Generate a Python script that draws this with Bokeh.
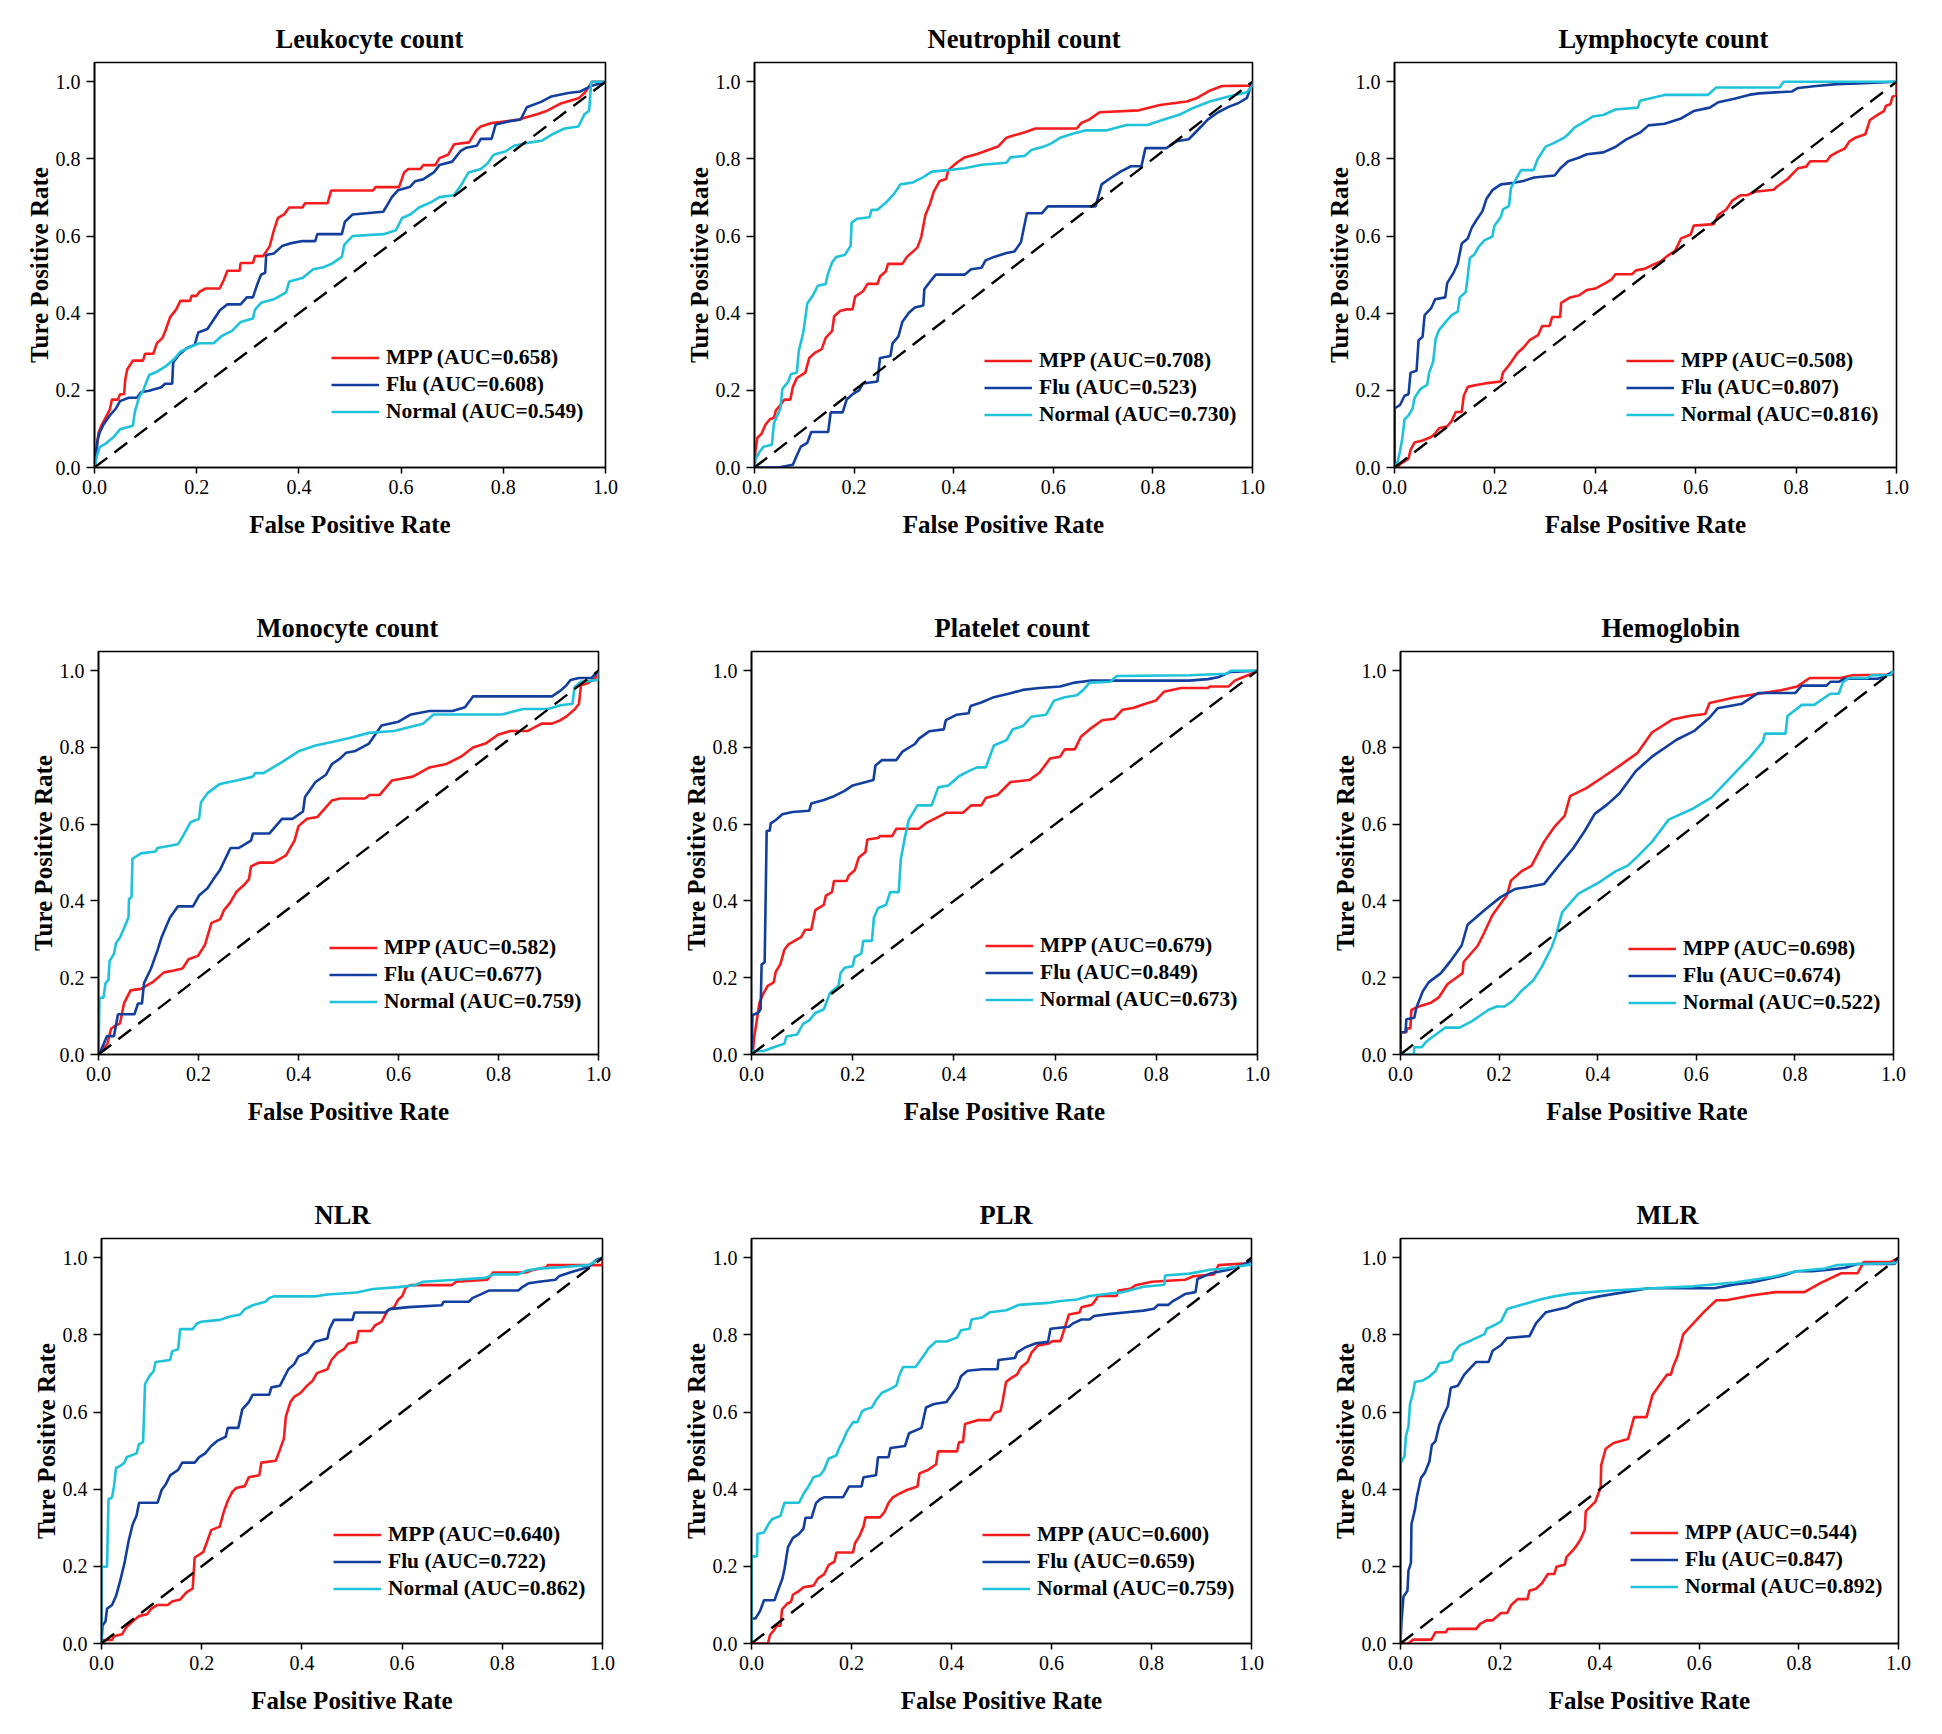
from bokeh.plotting import figure
from bokeh.layouts import column, row
from bokeh.models import Range1d, Legend, LegendItem, FixedTicker, PrintfTickFormatter
from bokeh.embed import file_html
from bokeh.resources import INLINE

# ---------------- data (FPR, TPR) ----------------
TITLES = ["Leukocyte count", "Neutrophil count", "Lymphocyte count",
          "Monocyte count", "Platelet count", "Hemoglobin",
          "NLR", "PLR", "MLR"]
GROUPS = ["MPP", "Flu", "Normal"]
AUC_MPP = [0.658, 0.708, 0.508, 0.582, 0.679, 0.698, 0.640, 0.600, 0.544]
AUC_FLU = [0.608, 0.523, 0.807, 0.677, 0.849, 0.674, 0.722, 0.659, 0.847]
AUC_NORMAL = [0.549, 0.730, 0.816, 0.759, 0.673, 0.522, 0.862, 0.759, 0.892]
TICKS = [0.0, 0.2, 0.4, 0.6, 0.8, 1.0]

LEUK_MPP = [(0,0),(.003,.04),(.008,.09),(.014,.11),(.02,.125),(.03,.15),(.034,.176),(.046,.176),(.05,.19),(.058,.19),(.06,.226),(.064,.254),(.075,.277),(.095,.277),(.099,.295),(.115,.295),(.122,.322),(.133,.336),(.14,.359),(.148,.39),(.16,.41),(.168,.432),(.187,.432),(.19,.445),(.2,.445),(.205,.455),(.217,.464),(.245,.464),(.253,.486),(.26,.51),(.284,.51),(.286,.53),(.31,.53),(.314,.548),(.33,.548),(.343,.574),(.35,.61),(.359,.647),(.371,.656),(.381,.674),(.407,.674),(.412,.685),(.456,.685),(.463,.718),(.545,.718),(.55,.727),(.596,.727),(.606,.765),(.614,.774),(.638,.774),(.643,.784),(.667,.784),(.675,.802),(.692,.811),(.704,.838),(.733,.843),(.748,.875),(.756,.884),(.777,.893),(.83,.902),(.866,.916),(.886,.925),(.911,.943),(.947,.957),(.959,.971),(.974,1.0),(1,1)]
LEUK_FLU = [(0,0),(.006,.071),(.01,.09),(.018,.112),(.03,.135),(.042,.153),(.05,.172),(.067,.181),(.083,.181),(.091,.195),(.107,.199),(.131,.208),(.138,.217),(.152,.217),(.154,.272),(.164,.29),(.18,.309),(.196,.318),(.203,.35),(.221,.359),(.237,.391),(.245,.407),(.26,.423),(.286,.423),(.298,.441),(.31,.441),(.318,.473),(.326,.5),(.334,.505),(.336,.551),(.351,.555),(.367,.574),(.383,.581),(.407,.587),(.432,.587),(.436,.605),(.484,.605),(.49,.637),(.505,.656),(.537,.66),(.565,.663),(.574,.683),(.582,.701),(.594,.719),(.618,.728),(.627,.742),(.643,.747),(.664,.765),(.675,.784),(.7,.793),(.716,.82),(.728,.829),(.748,.834),(.756,.852),(.777,.852),(.785,.889),(.813,.898),(.834,.902),(.846,.934),(.874,.948),(.894,.962),(.927,.971),(.951,.975),(.972,.989),(1,1)]
LEUK_NORMAL = [(0,0),(.004,.026),(.01,.053),(.022,.062),(.038,.08),(.05,.099),(.075,.108),(.079,.144),(.087,.181),(.095,.199),(.107,.24),(.123,.249),(.14,.263),(.156,.281),(.168,.3),(.188,.313),(.205,.322),(.233,.322),(.249,.341),(.269,.354),(.286,.377),(.31,.386),(.314,.409),(.326,.427),(.351,.436),(.375,.454),(.381,.482),(.407,.491),(.428,.514),(.448,.519),(.464,.528),(.484,.546),(.489,.578),(.505,.6),(.566,.605),(.59,.615),(.602,.647),(.618,.656),(.635,.674),(.659,.688),(.675,.701),(.703,.706),(.716,.729),(.732,.765),(.756,.774),(.769,.788),(.781,.811),(.805,.82),(.821,.834),(.854,.843),(.875,.847),(.899,.866),(.92,.879),(.947,.884),(.959,.916),(.968,.925),(.972,1.0),(1,1)]

NEUT_MPP = [(0,0),(.002,.045),(.006,.078),(.014,.087),(.022,.111),(.031,.125),(.039,.129),(.043,.148),(.052,.162),(.06,.176),(.072,.176),(.077,.209),(.085,.232),(.102,.246),(.11,.284),(.122,.298),(.135,.307),(.143,.336),(.156,.354),(.16,.392),(.172,.406),(.185,.41),(.197,.41),(.202,.443),(.218,.457),(.227,.476),(.247,.476),(.252,.495),(.264,.509),(.268,.528),(.297,.528),(.306,.546),(.327,.57),(.335,.598),(.343,.654),(.352,.682),(.36,.715),(.372,.743),(.385,.748),(.389,.771),(.406,.79),(.422,.804),(.447,.813),(.489,.832),(.506,.855),(.518,.86),(.543,.869),(.564,.879),(.647,.879),(.656,.893),(.672,.902),(.693,.921),(.772,.926),(.814,.94),(.868,.949),(.889,.958),(.914,.977),(.939,.989),(1,.99),(1,1)]
NEUT_FLU = [(0,0),(.048,0),(.077,.007),(.085,.031),(.093,.054),(.106,.064),(.114,.092),(.148,.092),(.153,.143),(.177,.143),(.185,.176),(.197,.19),(.21,.2),(.218,.218),(.247,.223),(.252,.284),(.273,.289),(.277,.321),(.289,.34),(.297,.378),(.31,.401),(.322,.415),(.339,.42),(.341,.462),(.352,.481),(.364,.5),(.422,.5),(.435,.514),(.456,.518),(.464,.537),(.481,.546),(.506,.556),(.522,.56),(.535,.584),(.547,.659),(.577,.659),(.589,.677),(.685,.677),(.697,.734),(.718,.753),(.735,.767),(.756,.781),(.777,.781),(.785,.828),(.827,.828),(.848,.846),(.872,.851),(.897,.884),(.91,.902),(.931,.921),(.952,.935),(.972,.945),(.989,.958),(.997,.991),(1,1)]
NEUT_NORMAL = [(0,0),(.002,.022),(.01,.04),(.018,.054),(.035,.059),(.039,.115),(.052,.153),(.056,.204),(.068,.223),(.073,.242),(.085,.246),(.089,.303),(.098,.35),(.106,.425),(.118,.448),(.127,.471),(.143,.476),(.147,.5),(.156,.532),(.164,.546),(.181,.551),(.193,.574),(.195,.635),(.206,.645),(.231,.649),(.235,.668),(.247,.668),(.264,.687),(.281,.711),(.293,.734),(.318,.739),(.339,.753),(.356,.767),(.389,.771),(.422,.776),(.456,.785),(.506,.79),(.514,.804),(.543,.808),(.556,.823),(.581,.832),(.597,.841),(.614,.855),(.639,.865),(.664,.874),(.706,.874),(.747,.888),(.789,.888),(.822,.902),(.856,.916),(.877,.93),(.914,.949),(.956,.963),(.989,.973),(1,.99),(1,1)]

LYMPH_MPP = [(.007,0),(.011,.009),(.028,.023),(.032,.046),(.04,.065),(.056,.07),(.073,.079),(.081,.088),(.089,.102),(.105,.107),(.114,.121),(.122,.144),(.134,.144),(.138,.186),(.146,.209),(.163,.214),(.18,.218),(.212,.223),(.216,.246),(.228,.265),(.245,.297),(.257,.311),(.269,.33),(.286,.343),(.294,.367),(.309,.367),(.314,.39),(.33,.39),(.332,.427),(.35,.441),(.367,.446),(.383,.46),(.4,.464),(.42,.478),(.432,.487),(.44,.501),(.473,.501),(.481,.511),(.498,.515),(.514,.525),(.53,.534),(.543,.548),(.559,.562),(.571,.594),(.59,.604),(.596,.627),(.636,.631),(.645,.655),(.661,.669),(.673,.692),(.69,.706),(.702,.706),(.718,.715),(.755,.72),(.763,.729),(.783,.748),(.804,.776),(.82,.78),(.828,.794),(.861,.794),(.869,.808),(.881,.817),(.897,.827),(.906,.845),(.918,.855),(.938,.864),(.947,.901),(.963,.915),(.975,.924),(.979,.938),(.988,.942),(.992,.961),(1,.966),(1,1)]
LYMPH_FLU = [(0,0),(0,.153),(.011,.162),(.02,.186),(.028,.19),(.032,.246),(.044,.251),(.048,.33),(.056,.339),(.06,.395),(.073,.413),(.081,.436),(.101,.441),(.105,.478),(.118,.506),(.126,.529),(.134,.581),(.146,.594),(.154,.622),(.163,.641),(.175,.664),(.183,.696),(.195,.719),(.212,.734),(.237,.738),(.257,.743),(.278,.752),(.319,.757),(.33,.775),(.346,.794),(.367,.803),(.383,.812),(.416,.817),(.44,.831),(.461,.85),(.489,.868),(.506,.887),(.538,.891),(.571,.905),(.596,.924),(.628,.933),(.645,.947),(.677,.956),(.706,.966),(.726,.97),(.792,.975),(.804,.984),(.84,.989),(.881,.994),(.922,.996),(1,1)]
LYMPH_NORMAL = [(0,0),(.006,.014),(.011,.042),(.016,.079),(.02,.125),(.028,.135),(.036,.153),(.04,.181),(.052,.204),(.065,.214),(.069,.246),(.077,.274),(.082,.334),(.089,.357),(.101,.376),(.114,.395),(.126,.404),(.13,.441),(.142,.455),(.146,.497),(.15,.543),(.159,.552),(.167,.571),(.179,.589),(.195,.599),(.199,.627),(.212,.65),(.216,.669),(.228,.678),(.232,.725),(.24,.743),(.252,.771),(.277,.771),(.285,.799),(.301,.832),(.317,.841),(.338,.855),(.346,.864),(.359,.882),(.371,.891),(.383,.9),(.395,.91),(.416,.914),(.44,.928),(.485,.933),(.489,.951),(.538,.966),(.624,.966),(.641,.985),(.767,.985),(.775,1.0),(1,1)]

MONO_MPP = [(.002,0),(.01,.014),(.018,.029),(.025,.067),(.035,.076),(.043,.081),(.051,.133),(.064,.167),(.085,.171),(.11,.19),(.131,.214),(.151,.219),(.168,.224),(.18,.248),(.199,.257),(.213,.286),(.226,.343),(.243,.352),(.251,.376),(.263,.395),(.276,.424),(.292,.443),(.301,.457),(.305,.49),(.321,.5),(.35,.5),(.375,.519),(.392,.557),(.4,.595),(.417,.614),(.438,.619),(.467,.662),(.483,.667),(.533,.667),(.542,.676),(.562,.676),(.587,.714),(.629,.724),(.662,.748),(.696,.757),(.725,.776),(.749,.8),(.774,.81),(.799,.833),(.824,.843),(.859,.843),(.886,.862),(.907,.862),(.924,.871),(.936,.881),(.953,.9),(.961,.914),(.965,.962),(.978,.967),(.994,.981),(1,1)]
MONO_FLU = [(0,0),(.006,.014),(.017,.048),(.031,.048),(.039,.105),(.072,.105),(.079,.133),(.087,.133),(.091,.186),(.105,.224),(.114,.257),(.118,.271),(.126,.305),(.143,.357),(.159,.386),(.189,.386),(.201,.414),(.218,.433),(.23,.457),(.243,.481),(.264,.538),(.28,.538),(.305,.557),(.309,.576),(.342,.576),(.367,.614),(.388,.614),(.409,.633),(.413,.671),(.434,.71),(.455,.729),(.467,.757),(.483,.771),(.495,.786),(.512,.79),(.541,.81),(.566,.857),(.6,.867),(.625,.886),(.662,.895),(.708,.895),(.733,.905),(.749,.933),(.907,.933),(.924,.948),(.936,.962),(.944,.976),(.961,.981),(.986,.981),(1,1)]
MONO_NORMAL = [(0,0),(.002,.148),(.01,.148),(.014,.186),(.02,.195),(.022,.243),(.031,.262),(.035,.29),(.043,.305),(.051,.329),(.06,.357),(.061,.405),(.066,.41),(.068,.51),(.085,.524),(.114,.529),(.118,.538),(.159,.548),(.168,.567),(.184,.605),(.201,.614),(.205,.657),(.218,.681),(.243,.705),(.276,.714),(.309,.724),(.313,.733),(.33,.733),(.367,.762),(.4,.79),(.434,.805),(.467,.814),(.5,.824),(.541,.838),(.591,.843),(.649,.862),(.67,.886),(.807,.886),(.849,.9),(.899,.9),(.924,.91),(.948,.914),(.952,.957),(.965,.971),(1,.976),(1,1)]

PLAT_MPP = [(0,0),(.003,.009),(.005,.042),(.01,.085),(.013,.113),(.016,.136),(.024,.16),(.032,.179),(.044,.188),(.048,.216),(.057,.235),(.065,.273),(.073,.287),(.085,.296),(.098,.306),(.106,.325),(.118,.325),(.126,.376),(.143,.39),(.147,.414),(.159,.423),(.163,.452),(.188,.452),(.192,.466),(.204,.48),(.212,.513),(.225,.527),(.229,.56),(.25,.564),(.254,.569),(.278,.569),(.286,.588),(.331,.588),(.344,.602),(.372,.621),(.385,.63),(.418,.63),(.434,.649),(.454,.649),(.463,.668),(.487,.677),(.512,.71),(.549,.715),(.569,.734),(.59,.771),(.61,.776),(.619,.795),(.639,.795),(.651,.828),(.668,.847),(.693,.871),(.717,.875),(.733,.898),(.754,.903),(.774,.912),(.799,.922),(.815,.945),(.849,.955),(.902,.955),(.906,.959),(.943,.959),(.955,.974),(.971,.983),(.988,.992),(1,1)]
PLAT_FLU = [(0,0),(.002,.103),(.013,.108),(.018,.118),(.02,.235),(.026,.24),(.03,.583),(.036,.583),(.038,.602),(.048,.611),(.061,.626),(.081,.632),(.114,.635),(.118,.654),(.143,.663),(.163,.673),(.184,.687),(.2,.701),(.241,.715),(.245,.753),(.258,.767),(.286,.767),(.299,.79),(.323,.809),(.331,.823),(.351,.842),(.38,.847),(.384,.871),(.405,.885),(.429,.889),(.433,.908),(.454,.917),(.479,.931),(.512,.941),(.536,.95),(.569,.955),(.61,.959),(.639,.969),(.668,.974),(.865,.974),(.902,.978),(.922,.983),(.947,.997),(1,1)]
PLAT_NORMAL = [(0,0),(.003,.009),(.024,.009),(.044,.019),(.065,.028),(.069,.047),(.09,.052),(.102,.08),(.114,.089),(.126,.108),(.143,.118),(.155,.16),(.172,.179),(.176,.212),(.184,.226),(.2,.23),(.204,.254),(.217,.263),(.221,.296),(.238,.296),(.242,.357),(.25,.381),(.266,.39),(.274,.423),(.291,.423),(.295,.508),(.303,.565),(.311,.612),(.328,.649),(.356,.649),(.369,.696),(.389,.701),(.41,.725),(.43,.739),(.446,.748),(.463,.748),(.479,.805),(.504,.819),(.516,.847),(.537,.856),(.553,.88),(.582,.885),(.598,.922),(.619,.931),(.643,.936),(.656,.95),(.668,.969),(.709,.971),(.722,.986),(.865,.988),(.939,.992),(.947,1.0),(1,1)]

HEMO_MPP = [(0,0),(0,.058),(.012,.058),(.013,.068),(.02,.068),(.022,.116),(.037,.125),(.062,.135),(.078,.149),(.095,.183),(.111,.198),(.126,.212),(.128,.241),(.157,.284),(.17,.318),(.186,.362),(.207,.4),(.216,.415),(.224,.453),(.245,.477),(.266,.492),(.291,.554),(.312,.593),(.333,.622),(.344,.673),(.377,.694),(.411,.723),(.444,.752),(.481,.786),(.51,.839),(.552,.873),(.585,.882),(.618,.887),(.627,.916),(.677,.93),(.726,.94),(.772,.949),(.805,.959),(.83,.981),(.893,.981),(.917,.988),(1,.99),(1,1)]
HEMO_FLU = [(0,0),(0,.058),(.01,.058),(.012,.092),(.028,.096),(.032,.121),(.045,.164),(.057,.188),(.082,.212),(.103,.246),(.124,.284),(.136,.338),(.17,.376),(.203,.41),(.232,.431),(.261,.437),(.291,.444),(.324,.497),(.349,.535),(.374,.583),(.394,.627),(.419,.651),(.444,.68),(.477,.738),(.51,.776),(.56,.82),(.597,.844),(.627,.878),(.643,.902),(.693,.914),(.726,.942),(.801,.942),(.814,.961),(.864,.961),(.872,.971),(.889,.971),(.901,.979),(.968,.979),(.98,.984),(1,.998)]
HEMO_NORMAL = [(0,0),(.027,0),(.028,.019),(.043,.019),(.053,.034),(.062,.043),(.078,.058),(.091,.07),(.12,.07),(.145,.087),(.161,.101),(.178,.116),(.195,.125),(.211,.125),(.228,.14),(.244,.164),(.269,.193),(.286,.227),(.307,.28),(.315,.309),(.328,.371),(.361,.419),(.402,.448),(.436,.477),(.461,.492),(.481,.516),(.51,.554),(.544,.612),(.594,.641),(.631,.67),(.66,.709),(.685,.743),(.71,.776),(.735,.815),(.739,.836),(.781,.836),(.785,.882),(.814,.911),(.839,.911),(.872,.94),(.889,.94),(.897,.969),(.909,.981),(.947,.981),(.955,.988),(.993,.988),(1,1)]

NLR_MPP = [(0,0),(.004,.009),(.021,.009),(.025,.019),(.041,.024),(.05,.043),(.062,.057),(.075,.071),(.091,.076),(.099,.09),(.112,.1),(.132,.1),(.141,.109),(.157,.114),(.17,.133),(.182,.142),(.186,.223),(.203,.237),(.211,.265),(.219,.294),(.236,.303),(.244,.341),(.252,.37),(.261,.393),(.269,.403),(.286,.408),(.294,.431),(.315,.436),(.319,.469),(.348,.474),(.356,.502),(.364,.531),(.368,.588),(.377,.626),(.385,.64),(.397,.649),(.41,.668),(.422,.682),(.43,.701),(.451,.711),(.459,.735),(.472,.754),(.484,.763),(.492,.777),(.509,.782),(.513,.81),(.538,.81),(.546,.825),(.559,.834),(.571,.863),(.584,.872),(.592,.891),(.6,.9),(.608,.924),(.617,.929),(.699,.929),(.708,.938),(.77,.943),(.782,.962),(.849,.962),(.857,.967),(.89,.976),(.89,.981),(1,.981),(1,1)]
NLR_FLU = [(0,0),(.002,.047),(.008,.057),(.011,.09),(.021,.1),(.029,.123),(.037,.161),(.046,.209),(.054,.265),(.062,.308),(.07,.332),(.075,.365),(.112,.365),(.12,.398),(.128,.412),(.137,.436),(.153,.45),(.161,.469),(.186,.469),(.195,.483),(.207,.493),(.219,.512),(.232,.526),(.248,.536),(.252,.559),(.273,.559),(.281,.607),(.294,.626),(.302,.645),(.335,.645),(.339,.664),(.356,.668),(.373,.711),(.385,.725),(.393,.744),(.41,.754),(.426,.782),(.439,.787),(.451,.791),(.455,.815),(.464,.839),(.501,.839),(.505,.858),(.567,.858),(.575,.867),(.613,.872),(.679,.877),(.683,.886),(.733,.886),(.741,.896),(.757,.905),(.773,.915),(.832,.915),(.84,.924),(.853,.934),(.873,.938),(.906,.943),(.914,.953),(.935,.962),(.972,.976),(.988,.995),(1,1)]
NLR_NORMAL = [(0,0),(0,.199),(.011,.199),(.014,.374),(.021,.379),(.025,.408),(.029,.455),(.037,.46),(.046,.469),(.05,.483),(.07,.493),(.075,.517),(.083,.522),(.087,.673),(.095,.692),(.104,.706),(.108,.73),(.137,.735),(.141,.758),(.153,.763),(.157,.815),(.182,.815),(.19,.829),(.199,.834),(.236,.839),(.257,.848),(.277,.853),(.286,.867),(.302,.877),(.327,.886),(.335,.896),(.344,.9),(.426,.9),(.451,.905),(.509,.91),(.542,.919),(.592,.924),(.625,.929),(.642,.938),(.708,.943),(.766,.948),(.782,.957),(.832,.957),(.849,.967),(.873,.972),(.923,.976),(.972,.981),(1,1)]

PLR_MPP = [(0,0),(.033,0),(.037,.022),(.046,.036),(.05,.046),(.058,.046),(.061,.088),(.071,.103),(.079,.108),(.083,.127),(.095,.136),(.104,.146),(.124,.15),(.133,.169),(.145,.179),(.154,.203),(.166,.212),(.17,.236),(.203,.236),(.207,.26),(.216,.279),(.224,.303),(.228,.327),(.257,.327),(.266,.341),(.274,.364),(.282,.378),(.295,.388),(.311,.398),(.332,.407),(.336,.441),(.353,.45),(.369,.464),(.373,.498),(.411,.498),(.415,.522),(.423,.522),(.427,.569),(.452,.579),(.477,.579),(.486,.598),(.498,.603),(.502,.626),(.509,.678),(.519,.688),(.531,.697),(.539,.716),(.552,.73),(.56,.754),(.573,.773),(.593,.777),(.602,.784),(.618,.784),(.627,.82),(.635,.853),(.656,.858),(.66,.872),(.681,.878),(.689,.892),(.693,.901),(.73,.901),(.734,.915),(.759,.92),(.768,.929),(.801,.938),(.867,.943),(.884,.952),(.925,.957),(.934,.981),(.992,.986),(1,1)]
PLR_FLU = [(0,0),(0,.065),(.008,.065),(.017,.084),(.025,.112),(.046,.112),(.054,.141),(.062,.169),(.066,.193),(.073,.25),(.083,.274),(.095,.284),(.104,.298),(.108,.326),(.12,.326),(.129,.364),(.137,.374),(.145,.379),(.183,.379),(.187,.388),(.195,.407),(.22,.407),(.224,.431),(.249,.436),(.253,.483),(.274,.483),(.278,.507),(.307,.512),(.315,.545),(.34,.559),(.349,.612),(.365,.621),(.39,.626),(.398,.641),(.411,.664),(.419,.693),(.432,.707),(.461,.711),(.492,.711),(.494,.735),(.527,.74),(.531,.754),(.548,.768),(.568,.778),(.593,.782),(.598,.816),(.635,.821),(.643,.83),(.66,.84),(.676,.84),(.685,.849),(.714,.854),(.751,.859),(.784,.863),(.805,.868),(.813,.878),(.834,.878),(.842,.887),(.855,.897),(.867,.906),(.888,.911),(.892,.945),(.917,.959),(.954,.969),(.975,.978),(1,.992)]
PLR_NORMAL = [(0,0),(0,.226),(.011,.226),(.012,.284),(.025,.288),(.033,.307),(.041,.322),(.058,.331),(.066,.365),(.095,.365),(.104,.388),(.112,.403),(.124,.431),(.137,.436),(.145,.45),(.154,.479),(.17,.488),(.174,.503),(.183,.526),(.191,.55),(.203,.574),(.212,.574),(.221,.602),(.228,.607),(.241,.612),(.249,.631),(.261,.65),(.278,.66),(.29,.669),(.295,.693),(.303,.717),(.328,.717),(.336,.731),(.349,.755),(.353,.764),(.369,.783),(.39,.783),(.411,.793),(.419,.812),(.436,.816),(.44,.84),(.461,.845),(.477,.859),(.51,.864),(.535,.878),(.593,.883),(.618,.888),(.651,.892),(.676,.901),(.709,.906),(.743,.911),(.784,.925),(.826,.93),(.827,.954),(.876,.959),(.917,.969),(.95,.973),(1,.983)]

MLR_MPP = [(0,0),(.016,0),(.025,.01),(.062,.01),(.07,.029),(.091,.029),(.095,.038),(.152,.038),(.16,.051),(.173,.06),(.185,.06),(.202,.079),(.214,.079),(.222,.099),(.235,.115),(.255,.115),(.259,.137),(.272,.142),(.284,.156),(.296,.18),(.309,.18),(.313,.199),(.33,.204),(.333,.223),(.35,.247),(.362,.271),(.37,.295),(.372,.343),(.391,.367),(.402,.405),(.403,.462),(.412,.505),(.428,.52),(.457,.53),(.469,.587),(.494,.587),(.506,.644),(.519,.668),(.535,.697),(.543,.697),(.547,.716),(.556,.744),(.568,.802),(.588,.83),(.609,.859),(.634,.89),(.654,.89),(.704,.902),(.753,.911),(.811,.911),(.844,.935),(.885,.96),(.918,.96),(.93,.989),(.984,.989),(1,1)]
MLR_FLU = [(0,0),(.002,.056),(.006,.122),(.014,.137),(.016,.189),(.021,.209),(.022,.309),(.029,.347),(.033,.381),(.041,.429),(.049,.443),(.058,.472),(.063,.515),(.07,.524),(.078,.567),(.086,.591),(.095,.615),(.101,.663),(.115,.668),(.128,.697),(.152,.73),(.177,.73),(.185,.759),(.202,.774),(.214,.792),(.259,.797),(.272,.83),(.292,.859),(.309,.864),(.333,.871),(.35,.883),(.374,.893),(.399,.9),(.432,.907),(.457,.912),(.498,.921),(.63,.921),(.671,.931),(.704,.936),(.737,.945),(.77,.955),(.794,.965),(.827,.965),(.86,.969),(.893,.974),(.918,.984),(.992,.984),(1,1)]
MLR_NORMAL = [(0,0),(0,.467),(.008,.486),(.011,.539),(.016,.562),(.019,.62),(.025,.649),(.029,.678),(.045,.682),(.058,.692),(.07,.706),(.078,.727),(.095,.73),(.103,.735),(.107,.754),(.119,.773),(.144,.787),(.169,.802),(.173,.816),(.19,.826),(.202,.835),(.214,.867),(.243,.878),(.284,.893),(.309,.9),(.342,.907),(.424,.915),(.506,.921),(.588,.926),(.671,.936),(.745,.95),(.794,.965),(.852,.972),(.877,.981),(.918,.984),(.992,.986),(1,1)]

CURVES = [
    (LEUK_MPP, LEUK_FLU, LEUK_NORMAL),
    (NEUT_MPP, NEUT_FLU, NEUT_NORMAL),
    (LYMPH_MPP, LYMPH_FLU, LYMPH_NORMAL),
    (MONO_MPP, MONO_FLU, MONO_NORMAL),
    (PLAT_MPP, PLAT_FLU, PLAT_NORMAL),
    (HEMO_MPP, HEMO_FLU, HEMO_NORMAL),
    (NLR_MPP, NLR_FLU, NLR_NORMAL),
    (PLR_MPP, PLR_FLU, PLR_NORMAL),
    (MLR_MPP, MLR_FLU, MLR_NORMAL),
]

# ---------------- styling / layout ----------------
COLORS = ["#F41C1C", "#123F9E", "#1EC2DA"]
FONT = "Liberation Serif"
CELL_W, CELL_H = 642, 572
# left / right border of each plot frame; top / bottom border per row
LR_BORDERS = [(94, 37), (112, 32), (110, 30),
              (98, 44), (109, 27), (116, 33),
              (101, 40), (109, 33), (116, 28)]
TB_BORDERS = [(62, 105), (79, 90), (94, 72)]
TITLE_OFFSETS = [181, 173, 164, 158, 183, 201, 213, 228, 236]
LEGEND_X = [237, 230, 232, 231, 234, 228, 232, 231, 230]
LEGEND_Y = [42, 39.5, 39.5, 39.5, 41, 38, 41, 41, 43.5]


def make_panel(i):
    bl, br = LR_BORDERS[i]
    bt, bb = TB_BORDERS[i // 3]
    p = figure(width=CELL_W, height=CELL_H, output_backend="svg",
               toolbar_location=None, x_range=Range1d(0, 1),
               y_range=Range1d(0, 1.05),
               min_border_left=bl, min_border_right=br,
               min_border_top=bt, min_border_bottom=bb)
    p.title.text = TITLES[i]
    p.title.text_font = FONT
    p.title.text_font_size = "26.5px"
    p.title.text_font_style = "bold"
    p.title.text_color = "black"
    p.title.align = "left"
    p.title.offset = TITLE_OFFSETS[i]
    p.title.standoff = 18

    p.xgrid.visible = False
    p.ygrid.visible = False
    p.outline_line_color = "black"
    p.outline_line_width = 1.6
    p.background_fill_color = "white"
    p.border_fill_color = "white"

    for ax in (p.xaxis[0], p.yaxis[0]):
        ax.ticker = FixedTicker(ticks=TICKS)
        ax.formatter = PrintfTickFormatter(format="%.1f")
        ax.minor_tick_line_color = None
        ax.major_tick_in = 0
        ax.major_tick_line_width = 1.5
        ax.major_tick_line_color = "black"
        ax.axis_line_color = "black"
        ax.axis_line_width = 1.6
        ax.major_label_text_font = FONT
        ax.major_label_text_font_size = "20px"
        ax.major_label_text_color = "black"
        ax.axis_label_text_font = FONT
        ax.axis_label_text_font_size = "25px"
        ax.axis_label_text_font_style = "bold"
        ax.axis_label_text_color = "black"
    p.xaxis.axis_label = "False Positive Rate"
    p.yaxis.axis_label = "Ture Positive Rate"
    p.xaxis.major_tick_out = 6
    p.yaxis.major_tick_out = 8
    p.xaxis.major_label_standoff = 6
    p.yaxis.major_label_standoff = 6
    p.xaxis.axis_label_standoff = 14
    p.yaxis.axis_label_standoff = 0

    aucs = [AUC_MPP[i], AUC_FLU[i], AUC_NORMAL[i]]
    items = []
    for g, pts, col, auc in zip(GROUPS, CURVES[i], COLORS, aucs):
        xs = [pt[0] for pt in pts]
        ys = [pt[1] for pt in pts]
        r = p.line(xs, ys, line_color=col, line_width=2.6)
        items.append(LegendItem(label=f"{g} (AUC={auc:.3f})", renderers=[r]))
    p.line([0, 1], [0, 1], line_color="black", line_width=2.4,
           line_dash="16 9")

    leg = Legend(items=items, location=(LEGEND_X[i], LEGEND_Y[i]))
    leg.label_text_font = FONT
    leg.label_text_font_size = "21.5px"
    leg.label_text_font_style = "bold"
    leg.label_text_color = "black"
    leg.glyph_width = 48
    leg.glyph_height = 27
    leg.label_height = 27
    leg.label_standoff = 7
    leg.spacing = 0
    leg.padding = 0
    leg.margin = 0
    leg.border_line_alpha = 0
    leg.background_fill_alpha = 0
    p.add_layout(leg, "center")
    return p


panels = [make_panel(i) for i in range(9)]
layout = column(row(*panels[0:3], spacing=0),
                row(*panels[3:6], spacing=0),
                row(*panels[6:9], spacing=0), spacing=0)

open("out.html", "w").write(file_html(layout, INLINE))
